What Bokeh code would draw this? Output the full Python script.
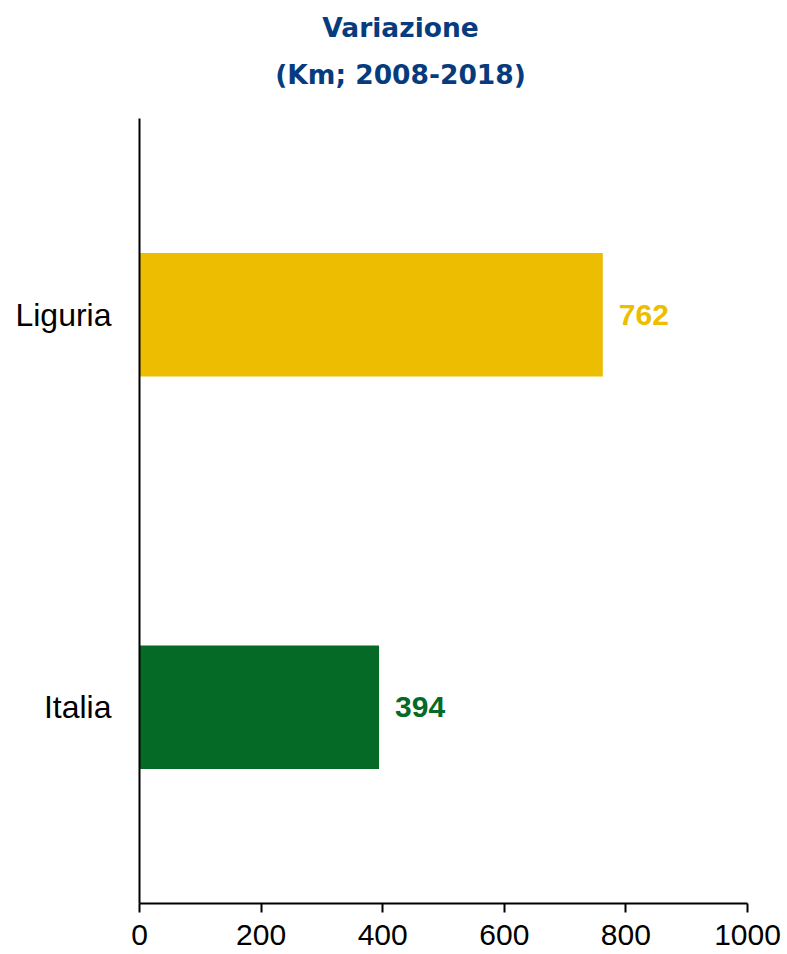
from bokeh.plotting import figure
from bokeh.models import Range1d, FactorRange, FixedTicker, Div, ColumnDataSource
from bokeh.layouts import column
from bokeh.embed import file_html
from bokeh.resources import INLINE
from bokeh.core.properties import value

# ---- data ----
categories = ["Liguria", "Italia"]
values = [762, 394]
bar_colors = ["#ECBD00", "#046A26"]
x_ticks = [0, 200, 400, 600, 800, 1000]
title_lines = ["Variazione", "(Km; 2008-2018)"]

src = ColumnDataSource(dict(cat=categories, val=values, color=bar_colors,
                            label=[str(v) for v in values]))

p = figure(y_range=FactorRange(factors=list(reversed(categories))),
           x_range=Range1d(x_ticks[0], x_ticks[-1]),
           frame_width=608, frame_height=785,
           min_border_left=139, min_border_right=40,
           min_border_top=8, min_border_bottom=51,
           output_backend="svg", toolbar_location=None)

p.hbar(y="cat", left=0, right="val", height=0.315, fill_color="color",
       line_color=None, source=src)
p.text(x="val", y="cat", text="label", text_color="color", x_offset=16,
       text_align="left", text_baseline="middle",
       text_font=value("Liberation Sans"), text_font_style="bold",
       text_font_size="30px", source=src)

p.xaxis.ticker = FixedTicker(ticks=x_ticks)
p.xaxis.major_label_text_font = "Liberation Sans"
p.xaxis.major_label_text_font_size = "30px"
p.xaxis.major_label_text_color = "black"
p.xaxis.major_label_standoff = 12
p.xaxis.major_tick_out = 9
p.xaxis.major_tick_in = 0
p.xaxis.minor_tick_out = 0
p.xaxis.minor_tick_in = 0
p.xaxis.axis_line_width = 2
p.xaxis.major_tick_line_width = 2
p.xaxis.axis_line_color = "black"
p.xaxis.major_tick_line_color = "black"

p.yaxis.major_label_text_font = "Liberation Sans"
p.yaxis.major_label_text_font_size = "32px"
p.yaxis.major_label_text_color = "black"
p.yaxis.major_label_standoff = 28
p.yaxis.major_tick_out = 0
p.yaxis.major_tick_in = 0
p.yaxis.minor_tick_out = 0
p.yaxis.minor_tick_in = 0
p.yaxis.axis_line_width = 2
p.yaxis.axis_line_color = "black"

p.grid.visible = False
p.outline_line_color = None
p.background_fill_color = "white"
p.border_fill_color = "white"

title_html = (
    '<div style="width:787px; text-align:center; font-family:\'DejaVu Sans\'; '
    'font-weight:bold; font-size:26.5px; line-height:47px; color:#063C7D; '
    'position:relative; left:7px; top:4px;">'
    + "<br>".join(title_lines) + "</div>"
)
div = Div(text=title_html, width=787, height=110, margin=(0, 0, 0, 0))

layout = column(div, p, spacing=0)

with open("out.html", "w") as f:
    f.write(file_html(layout, INLINE))
